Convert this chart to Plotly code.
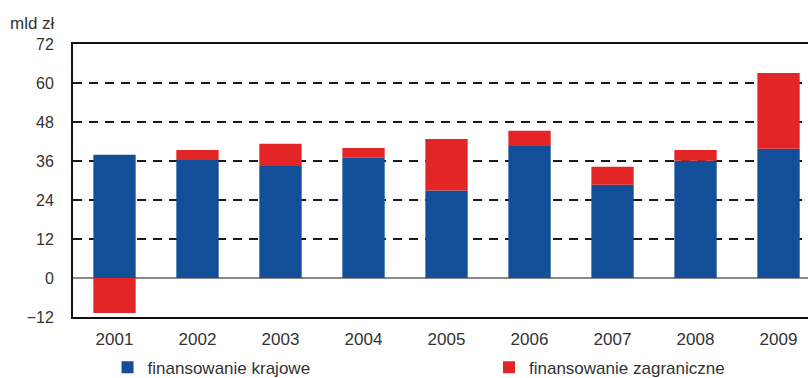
import plotly.graph_objects as go

# Years on the category axis
years = ["2001", "2002", "2003", "2004", "2005", "2006", "2007", "2008", "2009"]

# Domestic financing, bln PLN
domestic = [37.9, 36.3, 34.5, 37.0, 26.9, 40.6, 28.7, 36.1, 39.8]

# Foreign financing, bln PLN
foreign = [-10.8, 3.1, 6.8, 3.0, 15.9, 4.7, 5.5, 3.3, 23.3]

# Value axis ticks
y_ticks = [-12, 0, 12, 24, 36, 48, 60, 72]

BLUE = "#134F98"
RED = "#E32526"
TEXT = "#333333"
FONT = "Liberation Sans, Arial, sans-serif"

fig = go.Figure()
fig.add_trace(go.Bar(x=years, y=domestic, name="finansowanie krajowe",
                     marker=dict(color=BLUE, line=dict(width=0)),
                     legend="legend"))
fig.add_trace(go.Bar(x=years, y=foreign, name="finansowanie zagraniczne",
                     marker=dict(color=RED, line=dict(width=0)),
                     legend="legend2"))

legend_common = dict(
    orientation="h",
    yref="container", y=0.027, yanchor="middle",
    xanchor="left",
    font=dict(size=17, color=TEXT, family=FONT),
    itemclick=False, itemdoubleclick=False,
    bgcolor="rgba(0,0,0,0)",
)

fig.update_layout(
    width=808, height=378,
    margin=dict(l=73, r=0, t=44, b=61, autoexpand=False),
    barmode="relative",
    bargap=0.49,
    plot_bgcolor="white",
    paper_bgcolor="white",
    font=dict(family=FONT, size=17, color=TEXT),
    showlegend=True,
    legend=dict(x=0.047, **legend_common),
    legend2=dict(x=0.566, **legend_common),
)

fig.update_xaxes(
    type="category",
    range=[-0.5, 8.355],
    showline=True, linecolor="#111111", linewidth=2, mirror=True,
    showgrid=False, ticks="",
    tickfont=dict(size=17, color=TEXT),
    ticklabelstandoff=6,
)

fig.update_yaxes(
    range=[-12, 72],
    tickvals=y_ticks,
    showline=True, linecolor="#111111", linewidth=2,
    showgrid=True, gridcolor="#1a1a1a", gridwidth=1.5, griddash="9px,7px",
    zeroline=True, zerolinecolor="#8a8a8a", zerolinewidth=1.5,
    ticks="",
    tickfont=dict(size=16, color=TEXT),
    ticklabelstandoff=14,
)

# Unit label above the value axis
fig.add_annotation(
    text="mld zł", xref="paper", yref="paper",
    x=0, y=1, xanchor="right", yanchor="bottom",
    xshift=-16, yshift=9, showarrow=False,
    font=dict(size=17, color=TEXT, family=FONT),
)

fig.write_html("out.html")
